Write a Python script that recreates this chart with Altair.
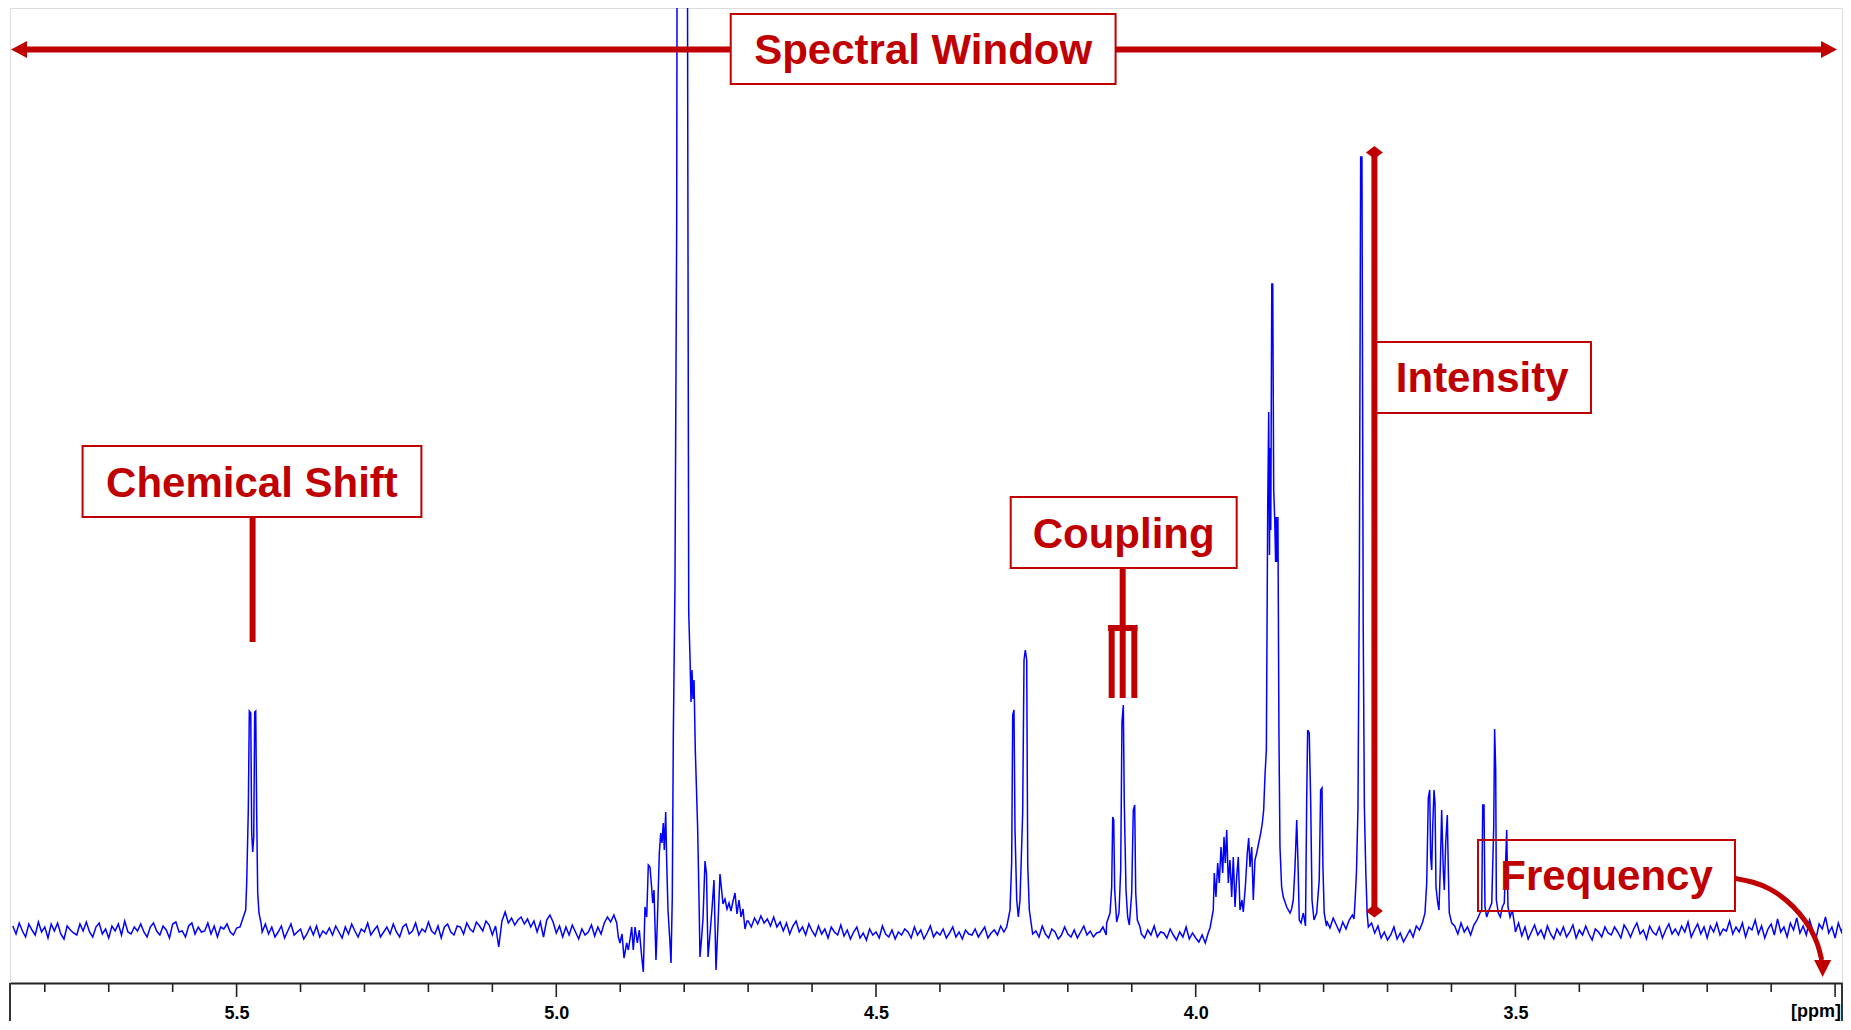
import altair as alt
import pandas as pd

RED = "#C00000"
BLUE = "#0000FF"
FRAME = "#333333"
FONT = "Liberation Sans"

# ---------------- data ----------------
x_domain = [2.9892, 5.8544]          # ppm, shown reversed
y_domain = [-54, 921]                # arbitrary intensity units

# baseline noise, one value every 0.005 ppm starting at 5.850 ppm
# (N = region covered by a multiplet listed below)
baseline_start = 5.850
baseline_step = 0.005
N = None
baseline_noise = [
    3, -5, 6, -2, -8, 5, -1, -6, 7, -3, 2, -9, 5, -2, 6, -5, -10, 3, -1, -4,
    -6, 5, -2, 7, -3, -8, 2, 6, -5, 0, -9, 3, -2, 5, -6, 8, -3, -5, 2, -2,
    5, -3, -8, 2, 6, -2, -6, 3, -1, -9, 5, 7, -3, -2, -8, 3, 6, -5, 2, -3,
    -2, 6, -5, 3, -8, 2, 0, 5, -3, -6, 1, 2, N, N, N, N, N, N, -3, 5,
    -5, 2, -8, -3, 3, -9, -2, 5, -6, -3, 0, -10, -5, 2, -6, 3, -8, -2, -5, 1,
    -6, 3, -3, -9, 2, -5, 5, -2, -8, 0, -3, 6, -6, -1, 3, -8, -3, 2, -5, 5,
    -3, -8, 2, 5, -5, -2, 6, -6, 0, -3, 7, -2, -5, 3, -9, 2, 5, -3, -6, 3,
    2, -5, 6, 0, -3, 7, 3, -2, 8, 4, -6, 3, -18, 8, 17, 6, 11, 4, 9, 12,
    5, 10, 2, 8, -3, 7, -8, 9, 14, 7, -4, 3, -8, 2, -6, 4, -3, -10, 0, -6,
    -3, 4, -7, 2, -5, 6, 12, 7, 14, N, N, N, N, N, N, N, N, N, N, N,
    N, N, N, N, N, N, N, N, N, N, N, N, N, N, N, N, N, N, N, N,
    N, N, N, N, N, N, N, N, N, N, 8, 2, 11, 5, 13, 6, 10, 3, 12, 2,
    7, -2, 6, -5, 3, 8, -3, 2, -6, 5, -2, -7, 3, -5, 0, -9, 2, -3, -6, 4,
    -7, -1, -10, -3, 2, -9, -4, -11, 0, -6, -3, -9, 3, -5, -8, -1, -10, -3, -6, 0,
    -3, -9, 2, -6, -1, -10, -4, 3, -8, -3, -6, 0, -9, -4, 2, -8, -3, -10, -1, -5,
    -6, 0, -8, -3, 2, -9, -4, -1, -6, 3, -3, N, N, N, N, N, N, N, N, -5,
    -2, -8, 3, -5, -9, 0, -3, -10, -6, 2, -5, -8, -1, -9, -3, 3, -6, -2, -8, -4,
    -3, 2, -6, N, N, N, N, N, N, N, N, N, N, -5, -9, -1, -6, 3, -8, -3,
    -4, -9, 0, -6, -11, -3, -8, 2, -10, -4, -9, -13, -6, -14, -3, N, N, N, N, N,
    N, N, N, N, N, N, N, N, N, N, N, N, N, N, N, N, N, N, N, N,
    N, N, N, N, N, N, N, N, N, N, N, 8, 1, 11, 4, -3, 7, 0, 9, 14,
    N, N, N, N, N, 6, -4, 3, -9, -3, -11, -6, 2, -10, -4, -13, -7, -1, -8, 3,
    -1, 7, N, N, N, N, N, N, N, N, N, 3, -5, 6, -3, 2, -6, 4, 9, N,
    N, N, N, N, N, N, N, N, N, N, -3, 6, -7, 2, -10, -3, 4, -6, -1, -9,
    3, -5, -10, 0, -6, 2, -8, -3, 4, -9, -1, -6, 3, -5, -11, 0, -3, -8, 2, -4,
    -6, 2, -3, -9, 4, -1, -8, 0, 6, -5, -1, -10, 3, -3, -6, 2, -9, -1, 5, -5,
    0, -6, 3, -3, 7, -8, -1, 5, -5, 2, -9, 3, -3, 6, -6, 0, -2, 8, -5, 2,
    -3, 6, -8, 2, -1, 9, -5, 3, -9, 0, 5, -6, 10, -3, 2, -8, 6, -1, 11, -4,
    3, -6, 9, -1, -10, 5, 0, 12, -4, 2, -9, 6, -3, 7,
]

# multiplets: (ppm, intensity)
doublet_548 = [
    (5.4947, 2), (5.4895, 12), (5.4858, 19), (5.4842, 46), (5.4817, 119),
    (5.4801, 218), (5.4779, 216), (5.4764, 96), (5.4748, 77), (5.4732, 92),
    (5.4717, 217), (5.4701, 218), (5.4686, 116), (5.4670, 36), (5.4650, 16),
    (5.4618, 6),
]
water_480 = [
    (4.9055, 6), (4.9030, -8), (4.9004, -14), (4.8972, -5), (4.8941, -29),
    (4.8899, -14), (4.8874, -21), (4.8847, -10), (4.8821, 2), (4.8796, -21),
    (4.8769, 2), (4.8733, -14), (4.8702, -1), (4.8664, -28), (4.8639, -43),
    (4.8613, 22), (4.8586, 12), (4.8561, 64), (4.8535, 62), (4.8508, 41),
    (4.8492, 26), (4.8472, 39), (4.8441, -31), (4.8420, 6), (4.8389, 76),
    (4.8367, 96), (4.8347, 86), (4.8327, 106), (4.8311, 79), (4.8289, 117),
    (4.8273, 66), (4.8253, 19), (4.8222, -14), (4.8206, -34), (4.8186, 32),
    (4.8170, 192), (4.8144, 345), (4.8117, 706), (4.8101, 1400), (4.8034, 1400),
    (4.7961, 1400), (4.7945, 835), (4.7929, 317), (4.7909, 272), (4.7893, 227),
    (4.7878, 259), (4.7862, 230), (4.7846, 249), (4.7826, 179), (4.7789, 100),
    (4.7768, 30), (4.7753, -28), (4.7729, -10), (4.7706, 10), (4.7674, 68),
    (4.7651, 55), (4.7627, -28), (4.7596, -5), (4.7565, 20), (4.7534, 49),
    (4.7502, -41), (4.7471, 5), (4.7440, 55), (4.7416, 40), (4.7393, 25),
    (4.7362, 30), (4.7330, 20), (4.7299, 26), (4.7268, 18), (4.7236, 28),
    (4.7205, 36), (4.7174, 15), (4.7143, 29), (4.7111, 12), (4.7080, 20),
    (4.7049, 0), (4.7018, 8),
]
doublet_428 = [
    (4.2956, 2), (4.2904, 19), (4.2878, 67), (4.2862, 214), (4.2842, 219),
    (4.2826, 99), (4.2799, 29), (4.2774, 12), (4.2748, 29), (4.2706, 116),
    (4.2685, 269), (4.2665, 279), (4.2643, 269), (4.2627, 64), (4.2602, 19),
    (4.2565, 2),
]
triplet_411 = [
    (4.1392, 6), (4.1340, 16), (4.1314, 42), (4.1298, 112), (4.1282, 109),
    (4.1267, 39), (4.1236, 7), (4.1200, 16), (4.1173, 59), (4.1153, 207),
    (4.1132, 224), (4.1117, 126), (4.1090, 39), (4.1064, 12), (4.1038, 4),
    (4.1001, 36), (4.0976, 119), (4.0954, 124), (4.0938, 36), (4.0913, 9),
    (4.0871, 2),
]
multiplet_390 = [
    (3.9776, 1), (3.9725, 19), (3.9709, 56), (3.9683, 32), (3.9656, 66),
    (3.9631, 46), (3.9604, 82), (3.9578, 56), (3.9557, 92), (3.9537, 66),
    (3.9515, 99), (3.9490, 46), (3.9464, 69), (3.9437, 32), (3.9412, 72),
    (3.9385, 22), (3.9359, 52), (3.9334, 72), (3.9307, 19), (3.9276, 29),
    (3.9256, 17), (3.9224, 42), (3.9193, 76), (3.9171, 91), (3.9151, 62),
    (3.9124, 82), (3.9099, 29), (3.9073, 69), (3.9046, 76), (3.9015, 86),
    (3.8983, 96), (3.8958, 106), (3.8937, 119), (3.8916, 154), (3.8895, 179),
    (3.8874, 419), (3.8858, 517), (3.8846, 374), (3.8836, 481), (3.8826, 399),
    (3.8810, 645), (3.8795, 645), (3.8780, 439), (3.8765, 412), (3.8750, 367),
    (3.8740, 412), (3.8730, 367), (3.8714, 412), (3.8698, 194), (3.8682, 82),
    (3.8656, 42), (3.8630, 32), (3.8577, 22), (3.8525, 16), (3.8500, 20),
    (3.8474, 29), (3.8447, 62), (3.8420, 109), (3.8400, 66), (3.8380, 9),
    (3.8353, 6), (3.8317, 16), (3.8283, 3), (3.8264, 129), (3.8249, 199),
    (3.8224, 196), (3.8202, 129), (3.8181, 29), (3.8150, 9), (3.8108, 16),
    (3.8068, 49), (3.8046, 139), (3.8025, 141), (3.8010, 62), (3.7990, 16),
    (3.7955, 3),
]
singlet_374 = [
    (3.7524, 10), (3.7505, 31), (3.7485, 58), (3.7462, 122), (3.7440, 357),
    (3.7420, 772), (3.7400, 772), (3.7380, 303), (3.7362, 122), (3.7340, 58),
    (3.7318, 15), (3.7300, 2),
]
multiplet_362 = [
    (3.6414, 16), (3.6387, 46), (3.6362, 131), (3.6340, 139), (3.6325, 72),
    (3.6309, 59), (3.6293, 102), (3.6273, 139), (3.6257, 126), (3.6242, 42),
    (3.6215, 26), (3.6195, 19), (3.6174, 62), (3.6153, 119), (3.6128, 59),
    (3.6112, 39), (3.6090, 86), (3.6065, 114), (3.6049, 59), (3.6034, 16),
    (3.5996, 6),
]
multiplet_353 = [
    (3.5554, 16), (3.5527, 19), (3.5511, 124), (3.5491, 124), (3.5476, 22),
    (3.5449, 12), (3.5413, 19), (3.5370, 26), (3.5339, 102), (3.5325, 200),
    (3.5308, 159), (3.5298, 29), (3.5267, 16), (3.5236, 12), (3.5205, 22),
    (3.5174, 26), (3.5136, 99), (3.5116, 22), (3.5084, 12), (3.5048, 19),
    (3.5006, 1),
]
multiplets = [doublet_548, water_480, doublet_428, triplet_411,
              multiplet_390, singlet_374, multiplet_362, multiplet_353]

# axis
major_ticks = [5.5, 5.0, 4.5, 4.0, 3.5, 3.0]
minor_ticks = [5.8, 5.7, 5.6, 5.4, 5.3, 5.2, 5.1, 4.9, 4.8, 4.7, 4.6, 4.4, 4.3,
               4.2, 4.1, 3.9, 3.8, 3.7, 3.6, 3.4, 3.3, 3.2, 3.1]
tick_labels = [5.5, 5.0, 4.5, 4.0, 3.5]
unit_label = "[ppm]"

# annotations (in ppm / intensity units)
labels = ["Spectral Window", "Chemical Shift", "Coupling", "Intensity", "Frequency"]
label_x = [4.4262, 5.4760, 4.1126, 3.5520, 3.3574]
label_y = [865, 432, 381, 537, 39]
box_x1 = [4.7272, 5.7409, 4.2893, 3.7196, 3.5585]
box_x2 = [4.1253, 5.2110, 3.9359, 3.3818, 3.1566]
box_y1 = [915, 483, 432, 587, 89]
box_y2 = [845, 412, 361, 516, 18]

# thick red strokes: (x1, x2, y1, y2)
strokes = [
    (5.8340, 4.7272, 879.4, 879.4),   # spectral window, left part
    (4.1253, 3.0200, 879.4, 879.4),   # spectral window, right part
    (5.4750, 5.4750, 412, 287),       # chemical shift stem
    (4.1142, 4.1142, 361, 303),       # coupling stem
    (4.1370, 4.0910, 301, 301),       # coupling fork bar
    (4.1314, 4.1314, 304, 231),       # fork prongs
    (4.1142, 4.1142, 304, 231),
    (4.0960, 4.0960, 304, 231),
    (3.7205, 3.7205, 776.6, 18),      # intensity
]
freq_curve_x = [3.1576, 3.1279, 3.1018, 3.0757, 3.0549, 3.0366, 3.0263, 3.0210]
freq_curve_y = [50.7, 47.3, 40.7, 29.0, 15.7, -1.0, -16.0, -31.0]

# ---------------- build tables ----------------
ranges = [(min(p for p, _ in m), max(p for p, _ in m)) for m in multiplets]
rows = []
for i, v in enumerate(baseline_noise):
    if v is None:
        continue
    p = round(baseline_start - i * baseline_step, 4)
    if any(lo - 1e-6 <= p <= hi + 1e-6 for lo, hi in ranges):
        continue
    rows.append((p, v))
for m in multiplets:
    rows.extend(m)
rows.sort(key=lambda r: -r[0])
spec = pd.DataFrame(rows, columns=["ppm", "intensity"])

xs = alt.Scale(domain=x_domain, reverse=True, nice=False, zero=False)
ys = alt.Scale(domain=y_domain, nice=False, zero=False)

spectrum = alt.Chart(spec).mark_line(
    color=BLUE, strokeWidth=1.5, interpolate="linear", clip=True
).encode(
    x=alt.X("ppm:Q", scale=xs, title=None,
            axis=alt.Axis(values=tick_labels, format=".1f", ticks=False, tickSize=0,
                          grid=False, domain=True, domainColor="#222222",
                          domainWidth=2, labelFont=FONT, labelFontWeight="bold",
                          labelFontSize=18, labelColor="#000000", labelPadding=21,
                          labelFlush=False)),
    y=alt.Y("intensity:Q", scale=ys, axis=None),
)

ticks_df = pd.DataFrame(
    [(t, -54, -68) for t in major_ticks] + [(t, -54, -63) for t in minor_ticks],
    columns=["ppm", "y1", "y2"])
tick_rules = alt.Chart(ticks_df).mark_rule(color="#222222", strokeWidth=1.6).encode(
    x=alt.X("ppm:Q", scale=xs), y=alt.Y("y1:Q", scale=ys), y2="y2:Q")

frame_df = pd.DataFrame({"ppm": [x_domain[1], x_domain[0]], "y1": [-54, -54],
                         "y2": [-130, -130]})
frame_rules = alt.Chart(frame_df).mark_rule(color=FRAME, strokeWidth=2).encode(
    x=alt.X("ppm:Q", scale=xs), y=alt.Y("y1:Q", scale=ys), y2="y2:Q")

unit_df = pd.DataFrame({"ppm": [2.9908], "y": [-88], "t": [unit_label]})
unit_text = alt.Chart(unit_df).mark_text(
    font=FONT, fontWeight="bold", fontSize=18, color="#000000",
    align="right", baseline="alphabetic").encode(
    x=alt.X("ppm:Q", scale=xs), y=alt.Y("y:Q", scale=ys), text="t:N")

stroke_df = pd.DataFrame(strokes, columns=["x1", "x2", "y1", "y2"])
stroke_rules = alt.Chart(stroke_df).mark_rule(color=RED, strokeWidth=6, strokeCap="butt").encode(
    x=alt.X("x1:Q", scale=xs), x2="x2:Q", y=alt.Y("y1:Q", scale=ys), y2="y2:Q")

box_df = pd.DataFrame({"x1": box_x1, "x2": box_x2, "y1": box_y1, "y2": box_y2})
boxes = alt.Chart(box_df).mark_rect(fillOpacity=0, stroke=RED, strokeWidth=2).encode(
    x=alt.X("x1:Q", scale=xs), x2="x2:Q", y=alt.Y("y1:Q", scale=ys), y2="y2:Q")

text_df = pd.DataFrame({"x": label_x, "y": label_y, "t": labels})
texts = alt.Chart(text_df).mark_text(
    font=FONT, fontWeight="bold", fontSize=42, color=RED,
    align="center", baseline="alphabetic").encode(
    x=alt.X("x:Q", scale=xs), y=alt.Y("y:Q", scale=ys), text="t:N")

curve_df = pd.DataFrame({"x": freq_curve_x, "y": freq_curve_y,
                         "o": list(range(len(freq_curve_x)))})
curve = alt.Chart(curve_df).mark_line(color=RED, strokeWidth=5, interpolate="basis").encode(
    x=alt.X("x:Q", scale=xs), y=alt.Y("y:Q", scale=ys), order="o:Q")


def head(xv, yv, path):
    d = pd.DataFrame({"x": xv, "y": yv})
    return alt.Chart(d).mark_point(shape=path, filled=True, size=289, color=RED,
                                   opacity=1, strokeWidth=0).encode(
        x=alt.X("x:Q", scale=xs), y=alt.Y("y:Q", scale=ys))


heads = [
    head([5.8403], [879.4], "M-0.94,0L0.94,-1L0.94,1Z"),
    head([3.0095], [879.4], "M0.94,0L-0.94,-1L-0.94,1Z"),
    head([3.7205, 3.7205], [776.6, 18], "M0,-0.76L1,0L0,0.76L-1,0Z"),
    head([3.0195], [-39.5], "M0,1L-1,-1L1,-1Z"),
]

chart = alt.layer(
    spectrum, tick_rules, frame_rules, unit_text, stroke_rules, boxes, texts, curve, *heads
).properties(
    width=1832, height=975,
    padding={"left": 2, "top": 0, "right": 1, "bottom": 38},
    autosize=alt.AutoSizeParams(type="none"),
).configure_view(stroke=FRAME, strokeWidth=2).configure(background="white")

chart.save("out.html", embed_options={"renderer": "svg", "actions": False})
